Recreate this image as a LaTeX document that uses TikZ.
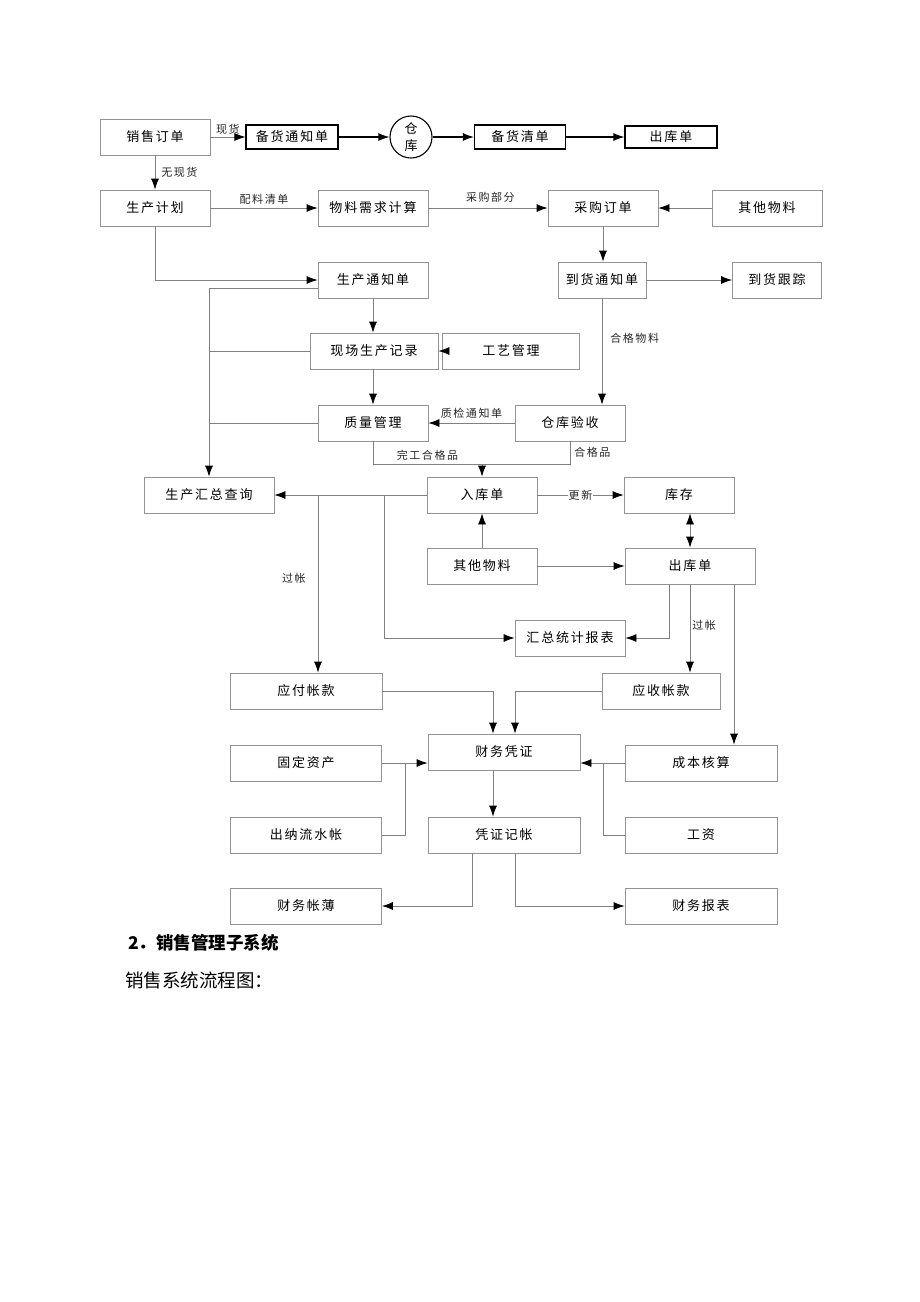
\documentclass[tikz,border=0pt]{standalone}
\usepackage{fontspec}
\setmainfont{Noto Sans CJK SC}
\newfontfamily\boxfont[LetterSpace=14]{Noto Sans CJK SC}
\usetikzlibrary{arrows.meta}

\tikzset{
  box/.style={draw=gray!85, line width=0.8pt, minimum width=110pt, minimum height=36pt,
    inner sep=0pt, font=\boxfont\fontsize{13}{14}\selectfont},
  topbox/.style={draw=black, line width=1.1pt, minimum width=92pt, minimum height=24pt,
    inner sep=0pt, font=\boxfont\fontsize{13}{14}\selectfont},
  conn/.style={draw=gray, line width=0.8pt},
  arr/.style={conn, -{Latex[black,length=11pt,width=8pt]}},
  darr/.style={conn, {Latex[black,length=11pt,width=8pt]}-{Latex[black,length=11pt,width=8pt]}},
  lbl/.style={font=\boxfont\fontsize{11}{12}\selectfont, inner sep=2pt, text=black!85},
}

\begin{document}
\begin{tikzpicture}[x=1pt, y=-1pt]
  \useasboundingbox[fill=white] (0,0) rectangle (920,1302);

  % top row
  \node[box] (order) at (155,137) {销售订单};
  \node[topbox] (prep) at (292,137) {备货通知单};
  \node[circle, draw=black, line width=1.1pt, minimum size=42pt, inner sep=0pt,
    align=center, font=\fontsize{13}{17}\selectfont] (depot) at (411,137) {仓\\库};
  \node[topbox, minimum width=91pt] (preplist) at (520,137) {备货清单};
  \node[topbox, minimum height=22pt] (out1) at (671,137) {出库单};

  % planning
  \node[box] (plan) at (155,208) {生产计划};
  \node[box] (mrp) at (373,208) {物料需求计算};
  \node[box] (purch) at (603,208) {采购订单};
  \node[box] (other1) at (767,208) {其他物料};
  \node[box] (pnote) at (373,280) {生产通知单};
  \node[box, minimum width=88pt] (arrival) at (602,280) {到货通知单};
  \node[box, minimum width=89pt] (track) at (777,280) {到货跟踪};
  \node[box, minimum width=128pt] (record) at (374,351) {现场生产记录};
  \node[box, minimum width=137pt] (craft) at (511,351) {工艺管理};
  \node[box] (quality) at (373,423) {质量管理};
  \node[box] (check) at (570,423) {仓库验收};

  % stock
  \node[box, minimum width=130pt] (query) at (209,495) {生产汇总查询};
  \node[box] (instock) at (482,495) {入库单};
  \node[box] (stock) at (679,495) {库存};
  \node[box] (other2) at (482,566) {其他物料};
  \node[box, minimum width=130pt] (out2) at (690,566) {出库单};
  \node[box] (report) at (570,638) {汇总统计报表};

  % finance
  \node[box, minimum width=152pt] (payable) at (306,691) {应付帐款};
  \node[box, minimum width=118pt] (recv) at (661,691) {应收帐款};
  \node[box, minimum width=152pt] (voucher) at (504,752) {财务凭证};
  \node[box, minimum width=152pt] (cost) at (701,763) {成本核算};
  \node[box, minimum width=151pt] (fixed) at (306,763) {固定资产};
  \node[box, minimum width=151pt] (cash) at (306,835) {出纳流水帐};
  \node[box, minimum width=152pt] (post) at (504,835) {凭证记帐};
  \node[box, minimum width=152pt] (wage) at (701,835) {工资};
  \node[box, minimum width=151pt] (ledger) at (306,906) {财务帐薄};
  \node[box, minimum width=152pt] (fstat) at (701,906) {财务报表};

  \coordinate (merge) at (482,464);
  \coordinate (tapA) at (318,495);
  \coordinate (tapB) at (384,495);
  \coordinate (jL) at (405,763);
  \coordinate (jR) at (603,763);

  % connectors, top row
  \draw[arr] (order.east) -- node[lbl, midway, above] {现货} (prep.west);
  \draw[arr, draw=black, line width=1.1pt] (prep) -- (depot);
  \draw[arr, draw=black, line width=1.1pt] (depot) -- (preplist);
  \draw[arr, draw=black, line width=1.1pt] (preplist) -- (out1);
  \draw[arr] (order) -- node[lbl, midway, right=4pt] {无现货} (plan);

  % planning
  \draw[arr] (plan) -- node[lbl, midway, above=1pt] {配料清单} (mrp);
  \draw[arr] (mrp) -- node[lbl, pos=0.52, above=3pt] {采购部分} (purch);
  \draw[arr] (other1) -- (purch);
  \draw[arr] (purch.south) -- (purch.south |- arrival.north);
  \draw[arr] (arrival) -- (track);
  \draw[arr] (plan.south) |- (pnote.west);
  \draw[arr] ([yshift=-8pt]pnote.west) -| (query.north);
  \draw[conn] (record.west) -- (record.west -| query.north);
  \draw[conn] (quality.west) -- (quality.west -| query.north);
  \draw[arr] (pnote) -- (pnote |- record.north);
  \draw[arr] (craft) -- (record);
  \draw[arr] (record.south -| pnote) -- (quality);
  \draw[arr] (check) -- node[lbl, midway, above=2pt] {质检通知单} (quality);
  \draw[arr] (arrival.south) -- node[lbl, pos=0.38, right=6pt] {合格物料} (arrival.south |- check.north);
  \draw[conn] (quality.south) |- node[lbl, pos=0.75, above=1pt] {完工合格品} (merge);
  \draw[conn] (check.south) |- node[lbl, pos=0.25, right=2pt] {合格品} (merge);
  \draw[arr] (merge) -- (instock.north);

  % stock
  \draw[arr] (instock) -- (query);
  \draw[arr] (tapA) -- node[lbl, pos=0.47, left=10pt] {过帐} (tapA |- payable.north);
  \draw[arr] (tapB) |- (report.west);
  \draw[arr] (instock) -- node[lbl, midway, fill=white, inner sep=1pt] {更新} (stock);
  \draw[darr] (out2.north |- stock.south) -- (out2.north);
  \draw[arr] (other2) -- (instock);
  \draw[arr] (other2) -- (out2);
  \draw[arr] ([xshift=-21pt]out2.south) |- (report.east);
  \draw[arr] (out2.south) -- node[lbl, pos=0.46, right=0pt] {过帐} (out2.south |- recv.north);
  \draw[arr] ([xshift=44pt]out2.south) -- ([xshift=44pt]out2.south |- cost.north);

  % finance
  \draw[arr] (payable.east) -| ([xshift=-11pt]voucher.north);
  \draw[arr] (recv.west) -| ([xshift=11pt]voucher.north);
  \draw[arr] (cost.west) -- (cost.west -| voucher.east);
  \draw[conn] (wage.west) -| (jR);
  \draw[arr] (fixed.east) -- (fixed.east -| voucher.west);
  \draw[conn] (cash.east) -| (jL);
  \draw[arr] ([xshift=-11pt]voucher.south) -- ([xshift=-11pt]voucher.south |- post.north);
  \draw[arr] ([xshift=-32pt]post.south) |- (ledger.east);
  \draw[arr] ([xshift=11pt]post.south) |- (fstat.west);

  % text below
  \node[anchor=west, inner sep=0pt, font=\bfseries\fontsize{17.5}{19}\selectfont] (head) at (128,943) {2．销售管理子系统};
  \node[anchor=west, inner sep=0pt, font=\fontsize{18.5}{20}\selectfont] (sub) at (125,980) {销售系统流程图：};
\end{tikzpicture}
\end{document}
